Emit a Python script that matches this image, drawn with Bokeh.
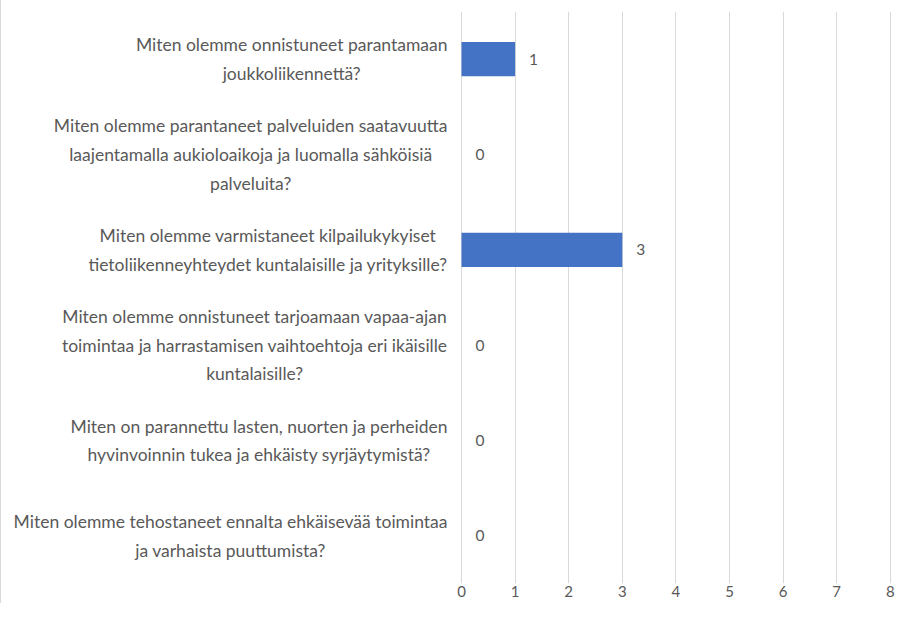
from bokeh.plotting import figure
from bokeh.models import Range1d, FixedTicker, ColumnDataSource
from bokeh.core.properties import value
from bokeh.embed import file_html
from bokeh.resources import INLINE

categories = [
    "Miten olemme onnistuneet parantamaan\njoukkoliikennettä?",
    "Miten olemme parantaneet palveluiden saatavuutta\nlaajentamalla aukioloaikoja ja luomalla sähköisiä\npalveluita?",
    "Miten olemme varmistaneet kilpailukykyiset\ntietoliikenneyhteydet kuntalaisille ja yrityksille?",
    "Miten olemme onnistuneet tarjoamaan vapaa-ajan\ntoimintaa ja harrastamisen vaihtoehtoja eri ikäisille\nkuntalaisille?",
    "Miten on parannettu lasten, nuorten ja perheiden\nhyvinvoinnin tukea ja ehkäisty syrjäytymistä?",
    "Miten olemme tehostaneet ennalta ehkäisevää toimintaa\nja varhaista puuttumista?",
]
values = [1, 0, 3, 0, 0, 0]
x_ticks = [0, 1, 2, 3, 4, 5, 6, 7, 8]

FONT = "Lato"
GREY = "#595959"

ypos = [i + 0.5 for i in range(len(categories))]
src = ColumnDataSource(dict(y=ypos, v=values, cat=categories,
                            lbl=[str(v) for v in values], zero=[0] * len(values)))

p = figure(width=896, height=603, output_backend="svg", toolbar_location=None,
           x_range=Range1d(-8.582, 8.134), y_range=Range1d(6, 0),
           min_border_left=0, min_border_right=0, min_border_top=11, min_border_bottom=20)
p.outline_line_color = None
p.background_fill_color = "white"
p.border_fill_color = "white"
p.styles = {"border-left": "1px solid #D9D9D9"}

p.hbar(y="y", left=0, right="v", height=0.36, source=src,
       fill_color="#4472C4", line_color=None)

p.text(x="v", y="y", text="lbl", source=src, x_offset=14,
       text_align="left", text_baseline="middle",
       text_font=value(FONT), text_font_size="15.5px", text_color=GREY)

p.text(x="zero", y="y", text="cat", source=src, x_offset=-14,
       anchor="center_right", text_align="center", text_baseline="middle",
       text_line_height=1.37,
       text_font=value(FONT), text_font_size="17.5px", text_color=GREY)

p.yaxis.visible = False
p.ygrid.visible = False
p.xaxis.ticker = FixedTicker(ticks=x_ticks)
p.xaxis.axis_line_color = None
p.xaxis.major_tick_line_color = None
p.xaxis.minor_tick_line_color = None
p.xaxis.major_tick_in = 0
p.xaxis.major_tick_out = 0
p.xaxis.major_label_standoff = 2
p.xaxis.major_label_text_font = FONT
p.xaxis.major_label_text_font_size = "15px"
p.xaxis.major_label_text_color = GREY
p.xgrid.ticker = FixedTicker(ticks=x_ticks)
p.xgrid.grid_line_color = "#D9D9D9"
p.xgrid.grid_line_width = 1

open("out.html", "w").write(file_html(p, INLINE))
